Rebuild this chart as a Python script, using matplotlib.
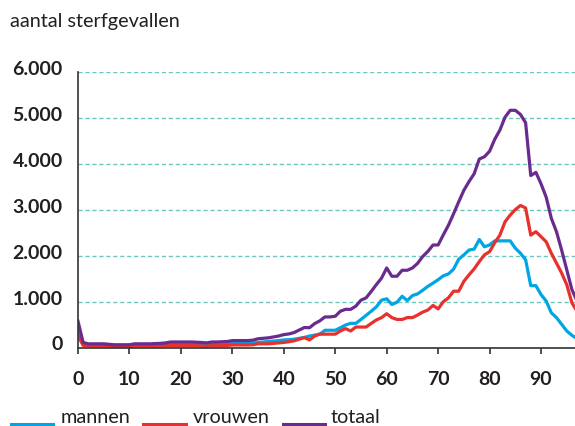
import numpy as np
import matplotlib
matplotlib.use("Agg")
import matplotlib.pyplot as plt
from matplotlib.lines import Line2D
from matplotlib.transforms import ScaledTranslation

plt.rcParams['font.family'] = ['Lato', 'DejaVu Sans']

# leeftijd 0..98
leeftijd = list(range(0, 99))

mannen = [
    320, 65, 45, 45, 45, 45, 40, 35, 35, 35,
    35, 45, 45, 45, 45, 50, 55, 60, 75, 80,
    80, 80, 80, 75, 75, 70, 80, 80, 85, 85,
    95, 95, 95, 95, 100, 110, 120, 130, 140, 150,
    165, 170, 180, 200, 220, 250, 270, 290, 375, 375,
    375, 430, 490, 525, 525, 610, 700, 790, 885, 1030,
    1060, 935, 985, 1115, 1020, 1130, 1165, 1245, 1330, 1400,
    1475, 1560, 1600, 1705, 1920, 2015, 2120, 2140, 2350, 2190,
    2230, 2320, 2320, 2320, 2320, 2160, 2050, 1910, 1345, 1345,
    1150, 1010, 755, 650, 505, 360, 265, 195, 150,
]

vrouwen = [
    250, 45, 35, 35, 35, 35, 30, 25, 25, 25,
    25, 35, 35, 35, 35, 35, 35, 40, 45, 40,
    40, 40, 40, 40, 35, 30, 40, 40, 40, 45,
    55, 55, 55, 55, 60, 80, 80, 80, 90, 100,
    110, 125, 145, 180, 215, 165, 250, 290, 290, 290,
    290, 360, 410, 360, 445, 445, 445, 525, 600, 650,
    735, 650, 610, 610, 650, 650, 705, 770, 815, 915,
    840, 995, 1080, 1225, 1225, 1440, 1580, 1710, 1870, 2015,
    2085, 2280, 2445, 2735, 2880, 3000, 3090, 3035, 2445, 2520,
    2410, 2300, 2050, 1835, 1620, 1365, 970, 790, 600,
]

totaal = [
    570, 110, 80, 80, 80, 80, 70, 60, 60, 60,
    60, 80, 80, 80, 80, 85, 90, 100, 120, 120,
    120, 120, 120, 115, 110, 100, 120, 120, 125, 130,
    150, 150, 150, 150, 160, 190, 200, 210, 230, 250,
    280, 295, 325, 380, 435, 430, 520, 580, 665, 665,
    680, 790, 830, 830, 900, 1030, 1080, 1220, 1370, 1510,
    1730, 1550, 1550, 1680, 1680, 1730, 1830, 1980, 2090, 2230,
    2230, 2450, 2660, 2910, 3170, 3420, 3610, 3780, 4100, 4150,
    4270, 4530, 4730, 5010, 5160, 5160, 5070, 4890, 3740, 3810,
    3560, 3270, 2810, 2520, 2120, 1690, 1260, 1010, 750,
]

y_ticks = [0, 1000, 2000, 3000, 4000, 5000, 6000]
y_labels = ['0', '1.000', '2.000', '3.000', '4.000', '5.000', '6.000']
x_ticks = [0, 10, 20, 30, 40, 50, 60, 70, 80, 90]

reeksen = ['mannen', 'vrouwen', 'totaal']
kleuren = ['#00a6e4', '#e8302c', '#6a2b8e']
tekst = '#231f20'

W, H = 575, 427
fig = plt.figure(figsize=(W / 100, H / 100), dpi=100)
ax = fig.add_axes([78 / W, 1 - 348.5 / H, 1 - 78 / W, (348.5 - 72.7) / H])

for naam, waarden, kleur in zip(reeksen, [mannen, vrouwen, totaal], kleuren):
    ax.plot(leeftijd, waarden, color=kleur, lw=2.3, label=naam)

ax.set_xlim(0, 96.6)
ax.set_ylim(0, 6000)

ax.set_yticks(y_ticks)
ax.set_yticklabels(y_labels)
ax.set_xticks(x_ticks)

ax.yaxis.grid(True, color='#6cc8bd', linestyle=(0, (3, 2)), lw=1)
ax.set_axisbelow(True)

for s in ['top', 'right']:
    ax.spines[s].set_visible(False)
for s in ['left', 'bottom']:
    ax.spines[s].set_color('#333333')
    ax.spines[s].set_linewidth(1.2)

ax.yaxis.set_tick_params(length=0, pad=11, labelsize=14, labelcolor=tekst)
ax.xaxis.set_tick_params(length=4.5, width=1.2, color='#333333', direction='out',
                         pad=12, labelsize=14, labelcolor=tekst)
for lab in ax.get_yticklabels() + ax.get_xticklabels():
    lab.set_fontweight('bold')
# y-labels staan iets boven de rasterlijn
offset = ScaledTranslation(0, 5 / 100, fig.dpi_scale_trans)
for lab in ax.get_yticklabels():
    lab.set_transform(lab.get_transform() + offset)

fig.text(10 / W, 1 - 27.5 / H, 'aantal sterfgevallen', fontsize=14.3, color=tekst,
         ha='left', va='baseline')

# legenda onderaan
leg_x = [(11, 53, 61), (143, 186, 193), (283, 325, 331)]
for (x0, x1, xt), naam, kleur in zip(leg_x, reeksen, kleuren):
    fig.add_artist(Line2D([x0 / W, x1 / W], [1 - 424.5 / H] * 2, color=kleur, lw=2.2,
                          transform=fig.transFigure))
    fig.text(xt / W, 1 - 423 / H, naam, fontsize=14.3, color=tekst,
             ha='left', va='baseline')

fig.savefig('out.png', dpi=100)
